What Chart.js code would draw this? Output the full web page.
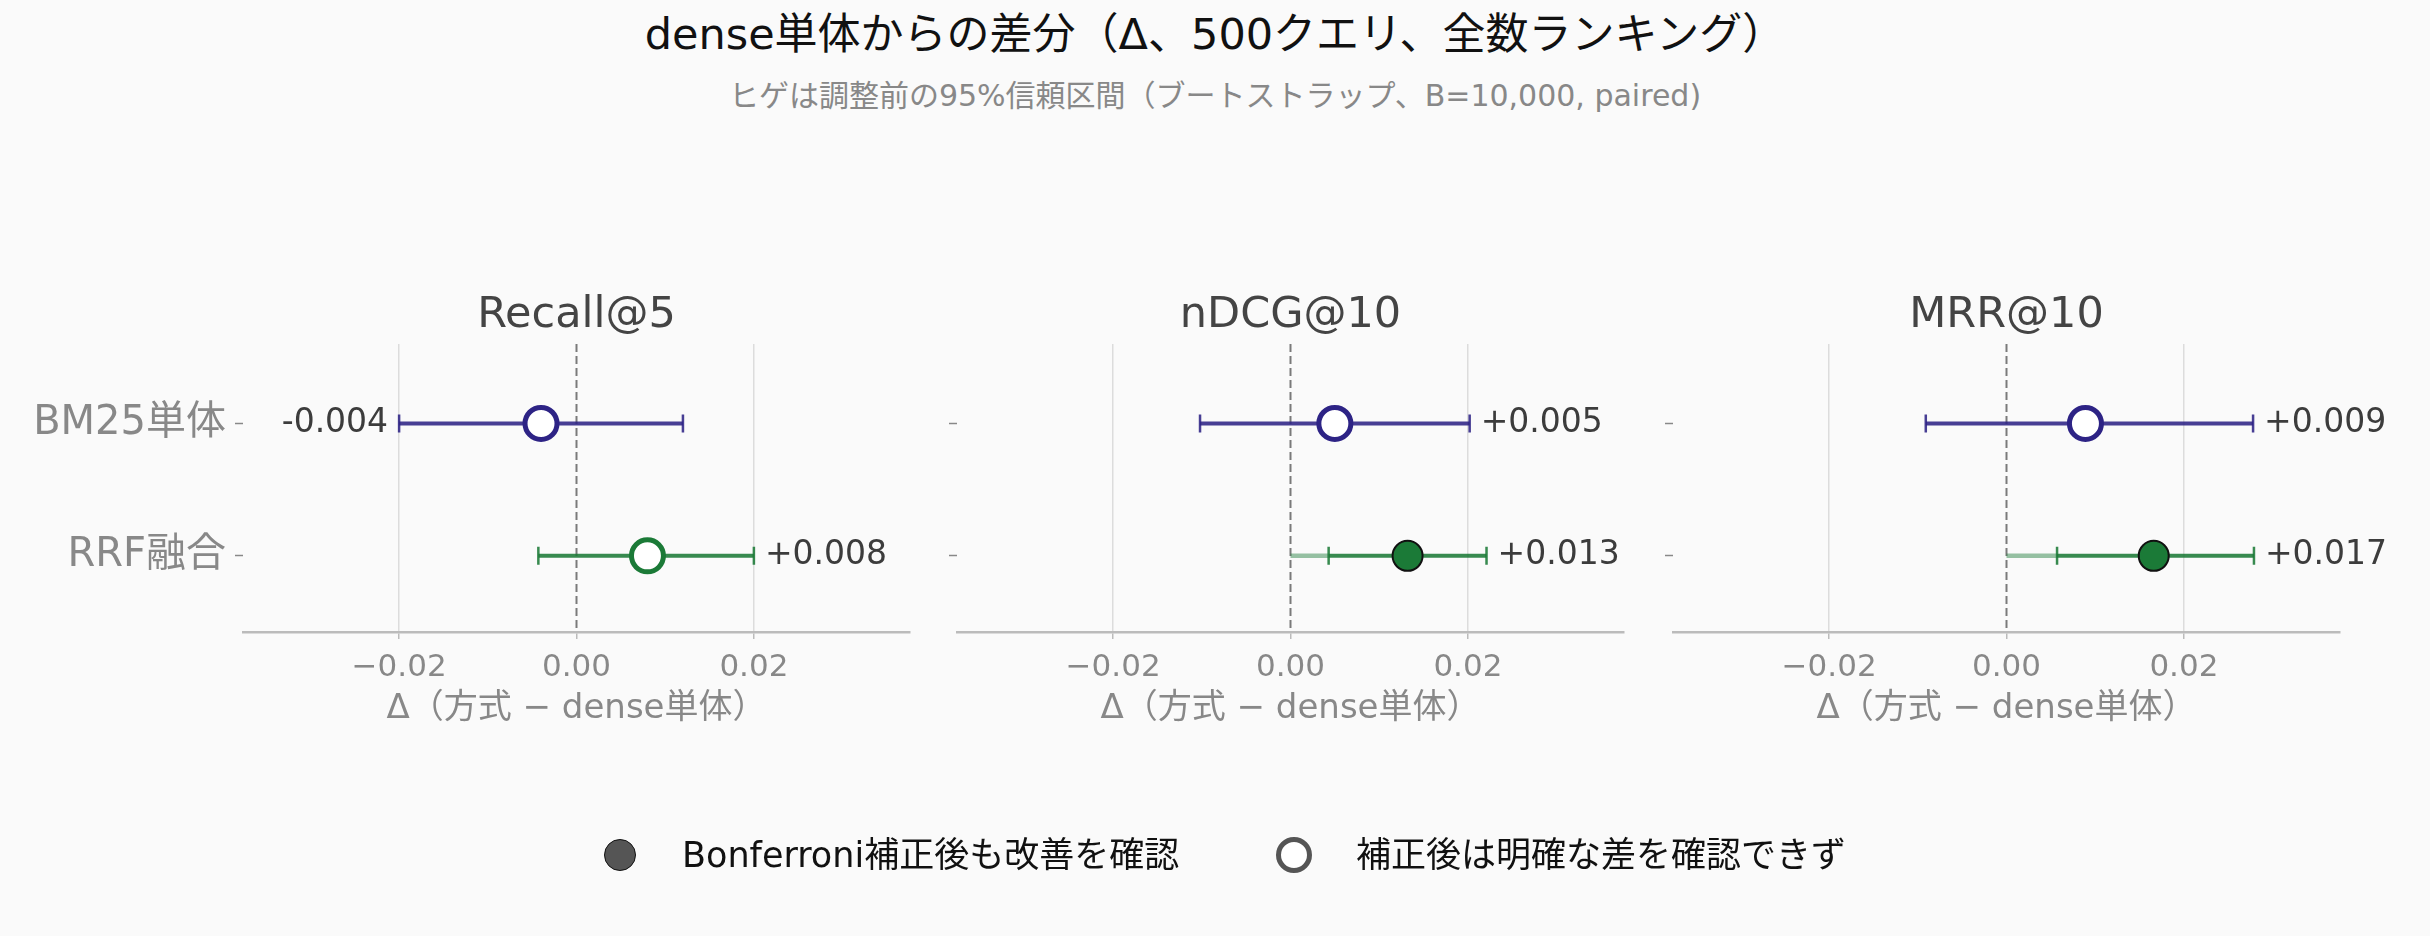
<!DOCTYPE html>
<html lang="ja">
<head>
<meta charset="UTF-8">
<title>dense単体からの差分</title>
<script src="https://cdn.jsdelivr.net/npm/chart.js"></script>
<style>
    body {
        margin: 0;
        background: #fafafa;
        font-family: 'DejaVu Sans', 'Noto Sans CJK JP', sans-serif;
    }
    #wrap {
        position: relative;
        width: 2430px;
        height: 936px;
        overflow: hidden;
    }
    #wrap canvas {
        position: absolute;
        left: 0;
        top: 0;
    }
    .title {
        position: absolute;
        left: 0;
        width: 2430px;
        text-align: center;
        white-space: nowrap;
    }
    #mainTitle { top: 8px; font-size: 43px; color: #111; line-height: 52px; }
    #subTitle { top: 78px; font-size: 30px; color: #888; line-height: 36px; }
    .legend-item {
        position: absolute;
        top: 834px;
        font-size: 35px;
        line-height: 42px;
        color: #111;
        white-space: nowrap;
    }
    .legend-mark {
        position: absolute;
        box-sizing: border-box;
        border-radius: 50%;
    }
</style>
</head>
<body>
<div id="wrap">
    <div id="mainTitle" class="title">dense単体からの差分（Δ、500クエリ、全数ランキング）</div>
    <div id="subTitle" class="title">ヒゲは調整前の95%信頼区間（ブートストラップ、B=10,000, paired)</div>

    <canvas id="c0" width="2430" height="936"></canvas>
    <canvas id="c1" width="2430" height="936"></canvas>
    <canvas id="c2" width="2430" height="936"></canvas>

    <span class="legend-mark" style="left:604px; top:839px; width:32px; height:32px; background:#555; border:1.5px solid #111;"></span>
    <div class="legend-item" style="left:682px;">Bonferroni補正後も改善を確認</div>
    <span class="legend-mark" style="left:1276px; top:837px; width:36px; height:36px; background:#fff; border:5px solid #555;"></span>
    <div class="legend-item" style="left:1356px;">補正後は明確な差を確認できず</div>
</div>

<script>
// 方式（行）と指標（パネル）
const methods = ['BM25単体', 'RRF融合'];
const metrics = ['Recall@5', 'nDCG@10', 'MRR@10'];

// 点推定（Δ）
const deltaRecall = [-0.0040, 0.0080];
const deltaNdcg = [0.0050, 0.0132];
const deltaMrr = [0.0089, 0.0166];

// 95%信頼区間（下限・上限）
const loRecall = [-0.0200, -0.0043];
const hiRecall = [0.0120, 0.0200];
const loNdcg = [-0.0102, 0.0043];
const hiNdcg = [0.0202, 0.0221];
const loMrr = [-0.0091, 0.0057];
const hiMrr = [0.0278, 0.0279];

// Bonferroni補正後も有意か
const sigRecall = [false, false];
const sigNdcg = [false, true];
const sigMrr = [false, true];

// x軸の目盛り
const xTicks = [-0.02, 0, 0.02];
const xTickLabels = ['\u22120.02', '0.00', '0.02'];

const methodColors = ['#2d2385', '#1b7a37'];
const lineColors = ['rgba(45,35,133,0.88)', 'rgba(27,122,55,0.88)'];
const fadeColors = ['rgba(45,35,133,0.45)', 'rgba(27,122,55,0.45)'];

const panels = [
    { metric: metrics[0], est: deltaRecall, lo: loRecall, hi: hiRecall, sig: sigRecall, left: 243 },
    { metric: metrics[1], est: deltaNdcg, lo: loNdcg, hi: hiNdcg, sig: sigNdcg, left: 957 },
    { metric: metrics[2], est: deltaMrr, lo: loMrr, hi: hiMrr, sig: sigMrr, left: 1673 }
];

const FONT = "'DejaVu Sans', 'Noto Sans CJK JP', sans-serif";
const PLOT_W = 667;
const PLOT_TOP = 344;
const PLOT_BOTTOM = 632;
const Y_AXIS_W = 20;
const X_AXIS_H = 101;

Chart.defaults.font.family = FONT;

function fmtDelta(v) {
    return (v >= 0 ? '+' : '-') + Math.abs(v).toFixed(3);
}

// 信頼区間のヒゲ・ゼロ線・数値ラベル・パネル見出し
const forestPlugin = {
    id: 'forest',
    beforeDatasetsDraw(chart, args, opts) {
        const p = opts.panel;
        const { ctx, chartArea } = chart;
        const xs = chart.scales.x, ys = chart.scales.y;
        const x0 = xs.getPixelForValue(0);

        ctx.save();
        ctx.strokeStyle = '#7a7a7a';
        ctx.lineWidth = 2;
        ctx.setLineDash([8, 4]);
        ctx.beginPath();
        ctx.moveTo(x0, chartArea.top);
        ctx.lineTo(x0, chartArea.bottom);
        ctx.stroke();
        ctx.setLineDash([]);

        p.est.forEach((v, i) => {
            const y = ys.getPixelForValue(i);
            const xl = xs.getPixelForValue(p.lo[i]);
            const xh = xs.getPixelForValue(p.hi[i]);
            if (p.sig[i]) {
                ctx.strokeStyle = fadeColors[i];
                ctx.lineWidth = 4.5;
                ctx.beginPath();
                ctx.moveTo(x0, y);
                ctx.lineTo(xl, y);
                ctx.stroke();
            }
            ctx.strokeStyle = lineColors[i];
            ctx.lineWidth = 4;
            ctx.beginPath();
            ctx.moveTo(xl, y);
            ctx.lineTo(xh, y);
            ctx.stroke();
            ctx.lineWidth = 2.5;
            ctx.beginPath();
            ctx.moveTo(xl, y - 9);
            ctx.lineTo(xl, y + 9);
            ctx.moveTo(xh, y - 9);
            ctx.lineTo(xh, y + 9);
            ctx.stroke();
        });
        ctx.restore();
    },
    afterDatasetsDraw(chart, args, opts) {
        const p = opts.panel;
        const { ctx, chartArea } = chart;
        const xs = chart.scales.x, ys = chart.scales.y;
        ctx.save();
        ctx.textBaseline = 'middle';
        ctx.font = '33px ' + FONT;
        ctx.fillStyle = '#3c3c3c';
        p.est.forEach((v, i) => {
            const y = ys.getPixelForValue(i);
            if (v < 0) {
                ctx.textAlign = 'right';
                ctx.fillText(fmtDelta(v), xs.getPixelForValue(p.lo[i]) - 11, y);
            } else {
                ctx.textAlign = 'left';
                ctx.fillText(fmtDelta(v), xs.getPixelForValue(p.hi[i]) + 11, y);
            }
        });
        // 行ラベル（左端パネルのみ）
        if (opts.showRows) {
            ctx.textAlign = 'right';
            ctx.font = '40px ' + FONT;
            ctx.fillStyle = '#888';
            methods.forEach((m, i) => {
                ctx.fillText(m, chartArea.left - 17, ys.getPixelForValue(i));
            });
        }
        ctx.textAlign = 'center';
        ctx.font = '43px ' + FONT;
        ctx.fillStyle = '#444';
        ctx.fillText(p.metric, (chartArea.left + chartArea.right) / 2, 316);
        ctx.restore();
    }
};

panels.forEach((p, k) => {
    new Chart(document.getElementById('c' + k), {
        type: 'scatter',
        data: {
            datasets: [{
                data: p.est.map((v, i) => ({ x: v, y: i })),
                pointRadius: p.sig.map(s => s ? 15 : 16),
                pointHoverRadius: p.sig.map(s => s ? 15 : 16),
                pointBackgroundColor: p.sig.map((s, i) => s ? methodColors[i] : '#ffffff'),
                pointBorderColor: p.sig.map((s, i) => s ? '#111111' : methodColors[i]),
                pointBorderWidth: p.sig.map(s => s ? 2 : 5),
                clip: false
            }]
        },
        options: {
            responsive: false,
            animation: false,
            events: [],
            layout: {
                padding: {
                    top: PLOT_TOP,
                    bottom: 936 - PLOT_BOTTOM - X_AXIS_H,
                    left: p.left - Y_AXIS_W,
                    right: 2430 - (p.left + PLOT_W)
                }
            },
            plugins: {
                legend: { display: false },
                tooltip: { enabled: false },
                forest: { panel: p, showRows: k === 0 }
            },
            scales: {
                x: {
                    type: 'linear',
                    min: -0.0376,
                    max: 0.0376,
                    afterBuildTicks: s => { s.ticks = xTicks.map(v => ({ value: v })); },
                    afterFit: s => { s.height = X_AXIS_H; },
                    ticks: {
                        callback: (v, i) => xTickLabels[i],
                        font: { size: 31 },
                        color: '#888',
                        padding: 10,
                        maxRotation: 0,
                        autoSkip: false
                    },
                    grid: {
                        color: c => (c.tick && c.tick.value === 0) ? 'rgba(0,0,0,0)' : '#dcdcdc',
                        lineWidth: 1.5,
                        tickLength: 7,
                        tickColor: '#bbb',
                        tickWidth: 1.5
                    },
                    border: { display: true, color: '#bbb', width: 2.5 },
                    title: {
                        display: true,
                        text: 'Δ（方式 − dense単体）',
                        font: { size: 34 },
                        color: '#888',
                        padding: { top: 4, bottom: 3 }
                    }
                },
                y: {
                    type: 'linear',
                    reverse: true,
                    min: -0.6,
                    max: 1.575,
                    afterBuildTicks: s => { s.ticks = methods.map((m, i) => ({ value: i })); },
                    afterFit: s => { s.width = Y_AXIS_W; },
                    ticks: {
                        callback: () => '',
                        font: { size: 36 },
                        color: '#888',
                        padding: 10
                    },
                    grid: {
                        drawOnChartArea: false,
                        drawTicks: true,
                        tickLength: 8,
                        tickColor: '#888',
                        tickWidth: 1.5
                    },
                    border: { display: false }
                }
            }
        },
        plugins: [forestPlugin]
    });
});
</script>
</body>
</html>
